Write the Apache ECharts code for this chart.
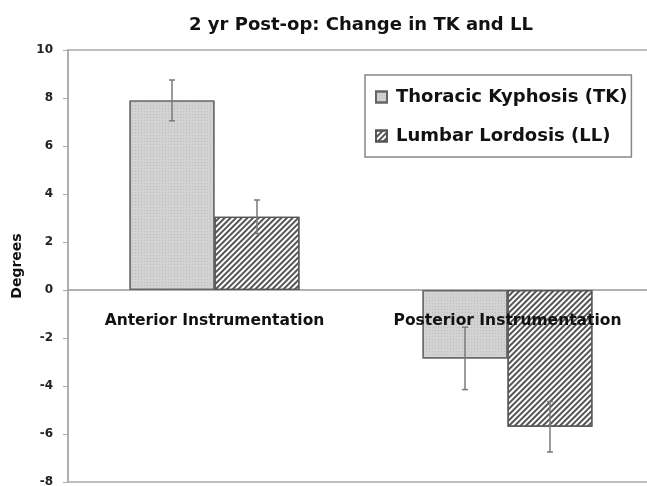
<!DOCTYPE html>
<html>
<head>
<meta charset="utf-8">
<script src="https://cdn.jsdelivr.net/npm/echarts@6/dist/echarts.min.js"></script>
<style>
    html, body { margin: 0; padding: 0; background: #fff; }
    #chart { width: 647px; height: 486px; }
</style>
</head>
<body>
<div id="chart"></div>
<script>
    let categories = ['Anterior Instrumentation', 'Posterior Instrumentation']
    let seriesNames = ['Thoracic Kyphosis (TK)', 'Lumbar Lordosis (LL)']
    let tkValues = [7.9, -2.85]
    let llValues = [3.05, -5.7]
    // error bar half-widths (degrees)
    let tkError = [0.85, 1.3]
    let llError = [0.7, 1.05]
    let yTicks = [-8, -6, -4, -2, 0, 2, 4, 6, 8, 10]

    let barFrac = 0.29
    let font = '"DejaVu Sans", Arial, sans-serif'

    function errData(vals, errs) {
        return vals.map(function (v, i) { return [i, v - errs[i], v + errs[i]] })
    }

    function errSeries(name, data, side) {
        return {
            name: name + ' err',
            type: 'custom',
            data: data,
            z: 5,
            silent: true,
            renderItem: function (params, api) {
                let band = api.size([1, 0])[0]
                let off = side * band * barFrac / 2
                let lo = api.coord([api.value(0), api.value(1)])
                let hi = api.coord([api.value(0), api.value(2)])
                let x = lo[0] + off
                let style = { stroke: '#7a7a7a', lineWidth: 1.5 }
                return {
                    type: 'group',
                    children: [
                        { type: 'line', shape: { x1: x, y1: lo[1], x2: x, y2: hi[1] }, style: style },
                        { type: 'line', shape: { x1: x - 3, y1: lo[1], x2: x + 3, y2: lo[1] }, style: style },
                        { type: 'line', shape: { x1: x - 3, y1: hi[1], x2: x + 3, y2: hi[1] }, style: style }
                    ]
                }
            }
        }
    }

    let mychart = echarts.init(document.getElementById('chart'))
    let option = {
        animation: false,
        title: {
            text: '2 yr Post-op: Change in TK and LL',
            left: 356,
            textAlign: 'center',
            top: 11,
            textStyle: { fontFamily: font, fontSize: 18, fontWeight: 'bold', color: '#111' }
        },
        legend: {
            data: seriesNames,
            orient: 'vertical',
            left: 365,
            top: 75,
            padding: [13, 4, 12, 10],
            itemGap: 21,
            itemWidth: 11,
            itemHeight: 11,
            icon: 'rect',
            borderColor: '#888',
            borderWidth: 1.5,
            backgroundColor: '#fff',
            textStyle: { fontFamily: font, fontSize: 18, fontWeight: 'bold', color: '#111', padding: [0, 0, 0, 4] }
        },
        grid: {
            show: true,
            left: 68,
            top: 50,
            width: 586,
            height: 432,
            outerBoundsMode: 'none',
            containLabel: false,
            borderColor: '#aaa',
            borderWidth: 1.5,
            backgroundColor: '#fff'
        },
        xAxis: {
            type: 'category',
            data: categories,
            axisLine: { onZero: true, lineStyle: { color: '#999', width: 1.5 } },
            axisTick: { show: false },
            axisLabel: { show: false }
        },
        yAxis: {
            type: 'value',
            min: yTicks[0],
            max: yTicks[yTicks.length - 1],
            interval: 2,
            name: 'Degrees',
            nameLocation: 'middle',
            nameGap: 44,
            nameTextStyle: { fontFamily: font, fontSize: 14, fontWeight: 'bold', color: '#111' },
            axisLine: { show: true, lineStyle: { color: '#aaa', width: 1.5 } },
            axisTick: { show: true, inside: false, length: 5, lineStyle: { color: '#aaa' } },
            splitLine: { show: false },
            axisLabel: { margin: 15, fontFamily: font, fontSize: 12, fontWeight: 'bold', color: '#222' }
        },
        series: [
            {
                name: seriesNames[0],
                type: 'bar',
                data: tkValues,
                barWidth: (barFrac * 100) + '%',
                barGap: '0%',
                itemStyle: {
                    color: '#d2d2d2',
                    borderColor: '#666',
                    borderWidth: 1.2,
                    decal: {
                        symbol: 'rect',
                        symbolSize: 1,
                        color: 'rgba(150,150,150,0.35)',
                        dashArrayX: [1, 2],
                        dashArrayY: [1, 2],
                        rotation: 0
                    }
                }
            },
            {
                name: seriesNames[1],
                type: 'bar',
                data: llValues,
                barWidth: (barFrac * 100) + '%',
                itemStyle: {
                    color: '#ffffff',
                    borderColor: '#555',
                    borderWidth: 1.2,
                    decal: {
                        symbol: 'rect',
                        symbolSize: 1,
                        color: '#555',
                        dashArrayX: [1, 0],
                        dashArrayY: [2, 2],
                        rotation: -Math.PI / 4
                    }
                }
            },
            errSeries('tk', errData(tkValues, tkError), -1),
            errSeries('ll', errData(llValues, llError), 1),
            {
                // category labels sitting just under the zero line
                name: 'category labels',
                type: 'custom',
                data: categories.map(function (c, i) { return [i, 0] }),
                z: 10,
                silent: true,
                renderItem: function (params, api) {
                    let p = api.coord([api.value(0), api.value(1)])
                    return {
                        type: 'text',
                        x: p[0],
                        y: p[1] + 31,
                        style: {
                            text: categories[params.dataIndex],
                            textAlign: 'center',
                            textVerticalAlign: 'middle',
                            fontFamily: font,
                            fontSize: 15.5,
                            fontWeight: 'bold',
                            fill: '#111'
                        }
                    }
                }
            }
        ]
    }
    mychart.setOption(option)
</script>
</body>
</html>
